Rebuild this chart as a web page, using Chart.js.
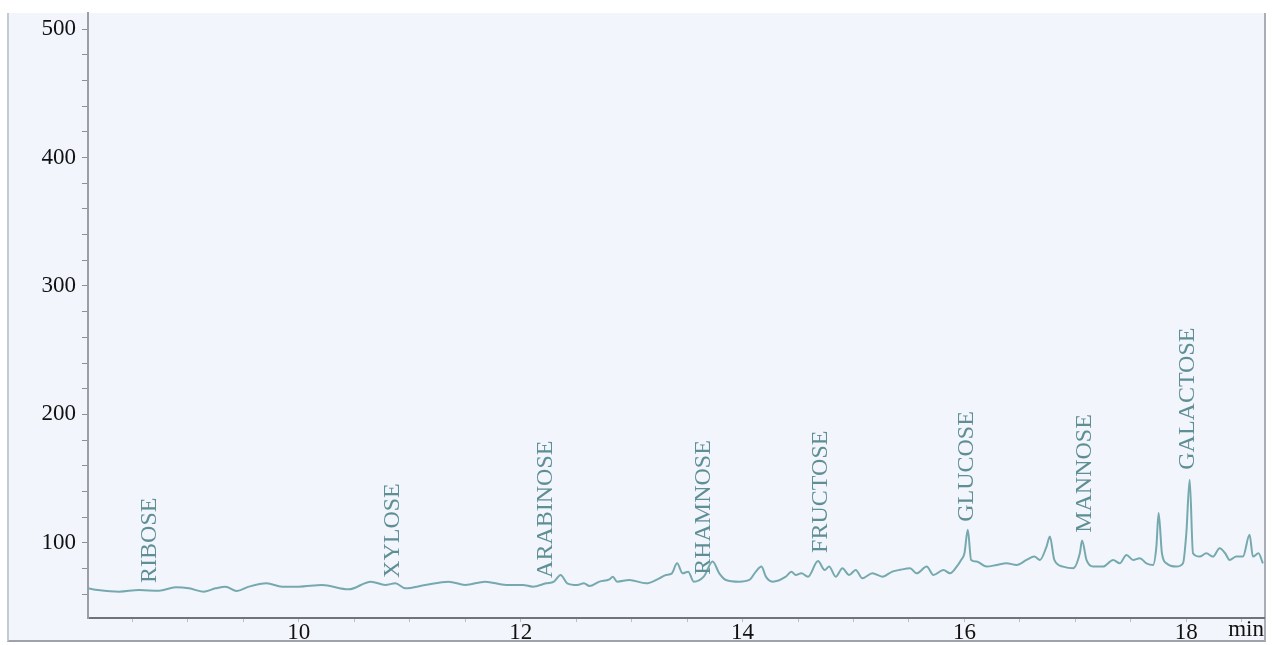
<!DOCTYPE html>
<html>
<head>
<meta charset="utf-8">
<script src="https://cdn.jsdelivr.net/npm/chart.js@4/dist/chart.umd.min.js"></script>
<style>
    html, body { margin: 0; padding: 0; background: #ffffff; overflow: hidden; }
    #frame {
        position: absolute; left: 7px; top: 13px; width: 1259px; height: 629px;
        box-sizing: border-box; background: #f2f6fc;
        border-left: 2px solid #c6cad2; border-right: 2px solid #a9adb5; border-bottom: 2px solid #9ea2aa;
    }
    #chromatogram { position: absolute; left: 0; top: 0; }
</style>
</head>
<body>
<div id="frame"></div>
<canvas id="chromatogram" width="1272" height="645"></canvas>
<script>
// retention time (min) and detector signal of the sugar run
const retentionTime = [
    8.10, 8.19, 8.38, 8.56, 8.74, 8.89, 9.01, 9.14, 9.25, 9.34, 9.44, 9.55, 9.71, 9.85,
    10.00, 10.21, 10.45, 10.65, 10.78, 10.87, 10.96, 11.14, 11.35, 11.50, 11.68, 11.87,
    12.02, 12.11, 12.23, 12.30, 12.36, 12.42, 12.51, 12.57, 12.62, 12.71, 12.80, 12.83, 12.87, 12.98,
    13.13, 13.25, 13.31, 13.36, 13.41, 13.46, 13.51, 13.56, 13.65, 13.73, 13.79, 13.85, 13.97,
    14.06, 14.12, 14.17, 14.21, 14.27, 14.39, 14.44, 14.48, 14.53, 14.59, 14.68, 14.74, 14.78,
    14.84, 14.90, 14.96, 15.02, 15.08, 15.17, 15.26, 15.35, 15.42, 15.51, 15.57, 15.66, 15.72,
    15.81, 15.87, 15.93, 15.97, 16.00, 16.03, 16.06, 16.11, 16.20, 16.29, 16.38, 16.47, 16.56,
    16.63, 16.68, 16.74, 16.77, 16.81, 16.89, 16.98, 17.04, 17.06, 17.10, 17.16, 17.25, 17.34,
    17.40, 17.46, 17.52, 17.58, 17.64, 17.70, 17.73, 17.75, 17.78, 17.82, 17.91, 17.97, 18.00,
    18.03, 18.06, 18.12, 18.18, 18.24, 18.30, 18.35, 18.39, 18.45, 18.51, 18.57, 18.60, 18.65, 18.69
];
const signal = [
    64.6, 63.3, 62.0, 63.3, 62.7, 65.4, 64.6, 62.0, 64.6, 65.9, 62.5, 65.9, 68.5, 65.9,
    65.9, 67.2, 63.8, 69.8, 67.2, 68.5, 64.6, 67.2, 69.8, 67.2, 69.8, 67.2,
    67.2, 65.9, 68.5, 69.8, 75.0, 68.5, 67.2, 68.5, 66.4, 69.8, 71.6, 73.7, 69.8, 71.1,
    68.5, 72.4, 75.0, 76.0, 84.1, 76.3, 77.6, 69.8, 73.7, 85.4, 76.3, 71.1, 69.8,
    71.1, 77.6, 81.5, 73.7, 69.8, 73.7, 77.6, 75.0, 76.3, 73.7, 85.9, 78.9, 81.5,
    73.7, 80.2, 75.0, 78.9, 72.4, 76.3, 73.7, 77.6, 79.0, 80.2, 76.3, 81.5, 75.0,
    78.9, 76.3, 81.5, 86.7, 91.9, 110.2, 86.7, 85.4, 81.5, 82.8, 84.1, 82.8, 86.7,
    89.3, 86.7, 97.1, 104.9, 86.7, 81.5, 80.2, 91.9, 101.8, 86.7, 81.5, 81.5, 86.7,
    84.1, 90.6, 86.7, 88.0, 84.1, 82.8, 97.1, 123.2, 91.9, 84.1, 81.5, 84.1, 107.6,
    149.2, 91.9, 89.3, 91.9, 89.3, 95.8, 91.9, 86.7, 89.3, 89.3, 106.3, 89.3, 91.9, 84.1
];

// peak names, where they elute and the signal level the label starts at
const peakNames = ['RIBOSE', 'XYLOSE', 'ARABINOSE', 'RHAMNOSE', 'FRUCTOSE', 'GLUCOSE', 'MANNOSE', 'GALACTOSE'];
const peakTimes = [8.66, 10.85, 12.23, 13.65, 14.70, 16.02, 17.08, 18.01];
const peakLabelBase = [68.8, 72.7, 72.7, 75.1, 92.2, 116.4, 107.8, 156.9];

// labelled ticks
const timeTickLabels = [10, 12, 14, 16, 18];
const signalTickLabels = [100, 200, 300, 400, 500];

const serif = '"Liberation Serif", "DejaVu Serif", serif';

const peakLabels = {
    id: 'peakLabels',
    afterDatasetsDraw(chart) {
        const { ctx, scales } = chart;
        ctx.save();
        ctx.font = '24px ' + serif;
        ctx.fillStyle = '#5f8e95';
        ctx.textAlign = 'left';
        ctx.textBaseline = 'middle';
        peakNames.forEach((name, i) => {
            const x = scales.x.getPixelForValue(peakTimes[i]);
            const y = scales.y.getPixelForValue(peakLabelBase[i]);
            ctx.save();
            ctx.translate(x, y);
            ctx.rotate(-Math.PI / 2);
            ctx.fillText(name, 0, 0);
            ctx.restore();
        });
        ctx.restore();
    }
};

new Chart(document.getElementById('chromatogram').getContext('2d'), {
    type: 'line',
    data: {
        datasets: [{
            data: retentionTime.map((t, i) => ({ x: t, y: signal[i] })),
            borderColor: '#76a9ae',
            borderWidth: 2,
            pointRadius: 0,
            cubicInterpolationMode: 'monotone',
            fill: false
        }]
    },
    options: {
        responsive: false,
        animation: false,
        events: [],
        layout: { padding: { left: 0, top: 13, right: 8, bottom: 0 } },
        plugins: { legend: { display: false }, tooltip: { enabled: false } },
        scales: {
            x: {
                type: 'linear',
                min: 8.1,
                max: 18.7,
                border: { color: '#6f737a', width: 2 },
                grid: { drawOnChartArea: false, tickLength: 4, color: '#b9bdc4' },
                ticks: {
                    stepSize: 0.5,
                    includeBounds: false,
                    autoSkip: false,
                    maxRotation: 0,
                    padding: -3,
                    color: '#111111',
                    font: { family: serif, size: 23 },
                    callback: v => timeTickLabels.includes(v) ? String(v) : ''
                },
                title: {
                    display: true,
                    text: 'min',
                    align: 'end',
                    color: '#111111',
                    font: { family: serif, size: 23 },
                    padding: { top: 0, bottom: 1 }
                },
                afterFit(scale) {
                    scale.height = 27;
                    scale.paddingLeft = 0;
                    scale.paddingRight = 0;
                }
            },
            y: {
                min: 41.5,
                max: 512.5,
                border: { color: '#9a9ea6', width: 2 },
                grid: { drawOnChartArea: false, tickLength: 6, color: '#8c9098' },
                ticks: {
                    stepSize: 20,
                    includeBounds: false,
                    autoSkip: false,
                    padding: 6,
                    color: '#111111',
                    font: { family: serif, size: 23 },
                    callback: v => signalTickLabels.includes(v) ? String(v) : ''
                },
                afterFit(scale) {
                    scale.width = 88;
                    scale.paddingTop = 0;
                    scale.paddingBottom = 0;
                }
            }
        }
    },
    plugins: [peakLabels]
});
</script>
</body>
</html>
